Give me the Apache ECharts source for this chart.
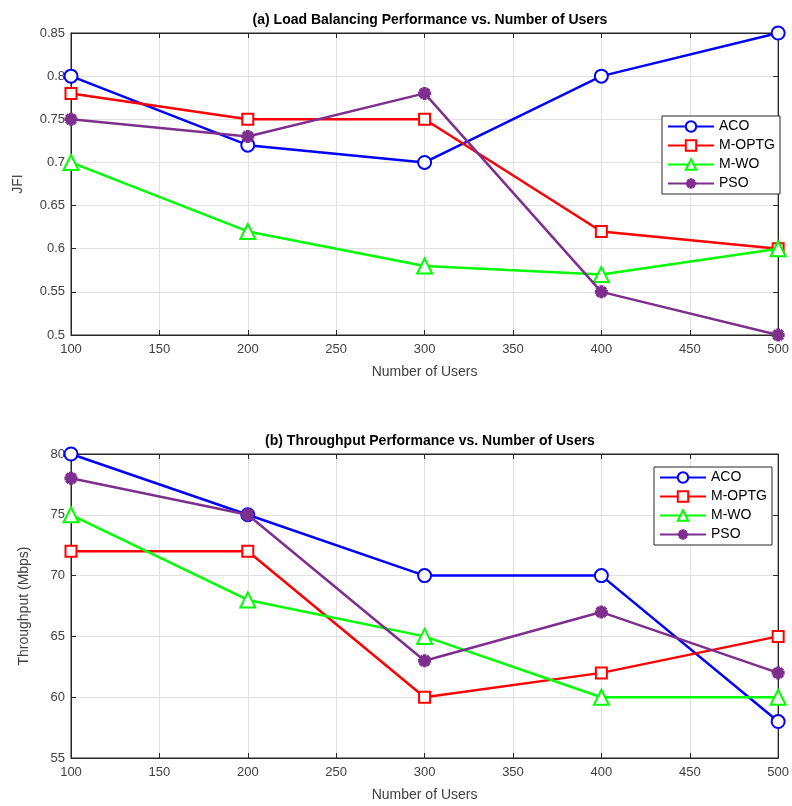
<!DOCTYPE html>
<html><head><meta charset="utf-8">
<script src="https://cdn.jsdelivr.net/npm/echarts@6/dist/echarts.min.js"></script>
<style>html,body{margin:0;padding:0;background:#fff}#c{width:792px;height:806px}</style>
</head><body><div id="c"></div>
<script>
const users = [100, 200, 300, 400, 500];
const seriesNames = ['ACO', 'M-OPTG', 'M-WO', 'PSO'];
const jfiACO = [0.80, 0.72, 0.70, 0.80, 0.85];
const jfiMOPTG = [0.78, 0.75, 0.75, 0.62, 0.60];
const jfiMWO = [0.70, 0.62, 0.58, 0.57, 0.60];
const jfiPSO = [0.75, 0.73, 0.78, 0.55, 0.50];
const thrACO = [80, 75, 70, 70, 58];
const thrMOPTG = [72, 72, 60, 62, 65];
const thrMWO = [75, 68, 65, 60, 60];
const thrPSO = [78, 75, 63, 67, 62];
const titleA = '(a) Load Balancing Performance vs. Number of Users';
const titleB = '(b) Throughput Performance vs. Number of Users';

const colors = ['#0000ff', '#ff0000', '#00ff00', '#7e2f8e'];
// asterisk-like symbol path
function asteriskPath() {
  let d = '';
  const r = 10, w = 3;
  for (let k = 0; k < 4; k++) {
    const a = k * Math.PI / 4;
    const c = Math.cos(a), s = Math.sin(a);
    const pts = [[-r, -w], [r, -w], [r, w], [-r, w]].map(p => [p[0] * c - p[1] * s, p[0] * s + p[1] * c]);
    d += 'M' + pts.map(p => p[0].toFixed(2) + ',' + p[1].toFixed(2)).join('L') + 'Z';
  }
  return 'path://' + d;
}
const symbols = ['emptyCircle', 'emptyRect', 'emptyTriangle', asteriskPath()];
const sizes = [13, 11, 15, 13];
const font = 'Liberation Sans, Arial, sans-serif';
const axisCol = '#262626';
const txtCol = '#404040';

function pair(arr) { return users.map((u, i) => [u, arr[i]]); }
function mkSeries(data, idx, gi) {
  return {
    name: seriesNames[idx], type: 'line', xAxisIndex: gi * 2, yAxisIndex: gi * 2,
    data: pair(data), symbol: symbols[idx], symbolSize: sizes[idx],
    color: colors[idx],
    lineStyle: { width: 2.5, color: colors[idx] },
    itemStyle: { color: colors[idx], borderWidth: 2.5 },
    emphasis: { disabled: true }, animation: false, z: 3 + idx
  };
}
function xAxes(gi) {
  const base = { type: 'value', min: 100, max: 500, interval: 50, gridIndex: gi,
    axisLine: { lineStyle: { color: axisCol, width: 1 } },
    axisTick: { inside: true, length: 5, lineStyle: { color: axisCol } },
    splitLine: { show: true, lineStyle: { color: '#e0e0e0' } } };
  return [
    Object.assign({}, base, { position: 'bottom', name: 'Number of Users', nameLocation: 'middle', nameGap: 30,
      nameTextStyle: { fontFamily: font, fontSize: 14, color: txtCol },
      axisLabel: { fontFamily: font, fontSize: 13, color: txtCol, margin: 8 } }),
    Object.assign({}, base, { position: 'top', axisLabel: { show: false }, splitLine: { show: false } })
  ];
}
function yAxes(gi, min, max, interval, name, gap) {
  const base = { type: 'value', min: min, max: max, interval: interval, gridIndex: gi,
    axisLine: { show: true, lineStyle: { color: axisCol, width: 1 } },
    axisTick: { show: true, inside: true, length: 5, lineStyle: { color: axisCol } },
    splitLine: { show: true, lineStyle: { color: '#e0e0e0' } } };
  return [
    Object.assign({}, base, { position: 'left', name: name, nameLocation: 'middle', nameGap: gap,
      nameTextStyle: { fontFamily: font, fontSize: 14, color: txtCol },
      axisLabel: { fontFamily: font, fontSize: 13, color: txtCol, margin: 6 } }),
    Object.assign({}, base, { position: 'right', axisLabel: { show: false }, splitLine: { show: false } })
  ];
}
function legend(left, top) {
  return { data: seriesNames, left: left, top: top, orient: 'vertical',
    itemWidth: 46, itemHeight: 13, itemGap: 4, padding: [3, 5, 3, 5],
    backgroundColor: '#fff', borderColor: '#262626', borderWidth: 1,
    textStyle: { fontFamily: font, fontSize: 14, lineHeight: 15, color: '#000' }, selectedMode: false };
}

const chart = echarts.init(document.getElementById('c'), null, { renderer: 'canvas' });
chart.setOption({
  animation: false,
  backgroundColor: '#fff',
  title: [
    { text: titleA, left: 425, textAlign: 'center', top: 8,
      textStyle: { fontFamily: font, fontSize: 14, fontWeight: 'bold', color: '#000' } },
    { text: titleB, left: 425, textAlign: 'center', top: 429,
      textStyle: { fontFamily: font, fontSize: 14, fontWeight: 'bold', color: '#000' } }
  ],
  grid: [
    { left: 71, right: 12, top: 33, height: 302, show: true, borderColor: axisCol, borderWidth: 1 },
    { left: 71, right: 12, top: 454, height: 304, show: true, borderColor: axisCol, borderWidth: 1 }
  ],
  xAxis: xAxes(0).concat(xAxes(1)),
  yAxis: yAxes(0, 0.5, 0.85, 0.05, 'JFI', 46).concat(yAxes(1, 55, 80, 5, 'Throughput (Mbps)', 40)),
  legend: [legend(662, 116), legend(654, 467)],
  series: [
    mkSeries(jfiACO, 0, 0), mkSeries(jfiMOPTG, 1, 0), mkSeries(jfiMWO, 2, 0), mkSeries(jfiPSO, 3, 0),
    mkSeries(thrACO, 0, 1), mkSeries(thrMOPTG, 1, 1), mkSeries(thrMWO, 2, 1), mkSeries(thrPSO, 3, 1)
  ]
});
</script></body></html>
